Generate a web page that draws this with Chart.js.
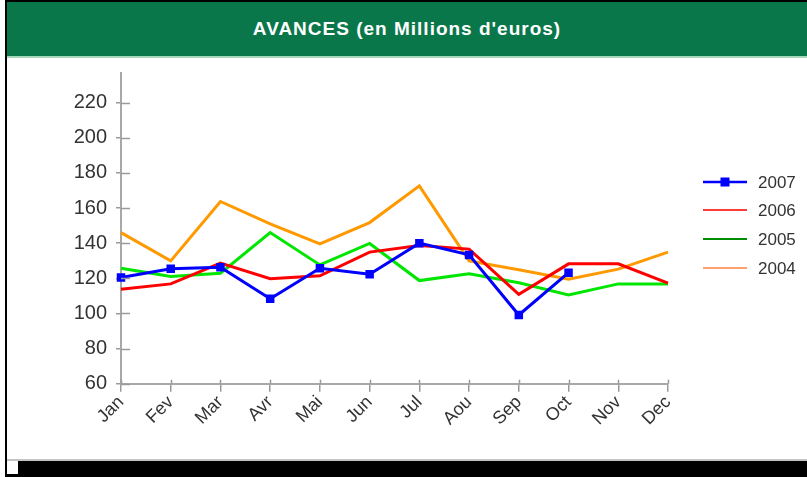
<!DOCTYPE html>
<html>
<head>
<meta charset="utf-8">
<script src="https://cdn.jsdelivr.net/npm/chart.js@4/dist/chart.umd.min.js"></script>
<style>
  html,body{margin:0;padding:0;background:#fff;width:807px;height:477px;overflow:hidden;position:relative;font-family:"Liberation Sans",Arial,sans-serif;}
  .abs{position:absolute;}
  #topb{left:5px;top:0;width:802px;height:2px;background:#000;}
  #leftb{left:5px;top:0;width:2px;height:477px;background:#000;}
  #head{left:7px;top:2px;width:800px;height:54px;background:#0a774a;color:#fff;font-weight:bold;font-size:19px;letter-spacing:1px;display:flex;align-items:center;justify-content:center;}
  #headline{left:7px;top:56px;width:800px;height:2px;background:#a8d8bc;}
  #greyline{left:7px;top:459px;width:800px;height:2px;background:#c4c4c4;}
  #blackbar{left:18px;top:461px;width:789px;height:16px;background:#000;}
  #blackbot{left:5px;top:474px;width:13px;height:3px;background:#000;}
  #wrap{left:7px;top:58px;width:800px;height:401px;}
</style>
</head>
<body>
<div class="abs" id="topb"></div>
<div class="abs" id="leftb"></div>
<div class="abs" id="head">AVANCES (en Millions d'euros)</div>
<div class="abs" id="headline"></div>
<div class="abs" id="greyline"></div>
<div class="abs" id="blackbar"></div>
<div class="abs" id="blackbot"></div>
<div class="abs" id="wrap"><canvas id="c" width="800" height="401"></canvas></div>
<script>
const months = ["Jan","Fev","Mar","Avr","Mai","Jun","Jul","Aou","Sep","Oct","Nov","Dec"];
const seriesNames = ["2007","2006","2005","2004"];
const v2007 = [120.5,125.4,126.3,108.4,125.7,122.3,140,133.3,99.1,123.2,null,null];
const v2006 = [113.8,116.8,128.6,119.7,121.4,134.9,138.6,136.6,110.9,128.2,128.2,117.2];
const v2005 = [125.7,121.0,122.9,146.0,127.6,139.8,118.7,122.5,117.5,110.5,116.8,116.8];
const v2004 = [146.0,129.9,163.7,151.0,139.6,151.7,172.6,129.9,124.8,119.5,125.2,134.9];
const yTicks = [60,80,100,120,140,160,180,200,220];
const yMin = 60, yMax = 237;

const lineColors = ["#0000ff","#ff0000","#00e600","#ff9900"];
const legendColors = ["#0000ff","#ff3c3c","#008c00","#ffa070"];

const innerTicks = {
  id:'innerTicks',
  afterDatasetsDraw(chart){
    const ctx = chart.ctx, x = chart.scales.x, y = chart.scales.y;
    ctx.save();
    ctx.strokeStyle = '#9a9a9a';
    ctx.lineWidth = 1.5;
    y.ticks.forEach(t=>{
      const py = Math.round(y.getPixelForValue(t.value))+0.5;
      ctx.beginPath(); ctx.moveTo(x.left, py); ctx.lineTo(x.left+9, py); ctx.stroke();
    });
    months.forEach((m,i)=>{
      const px = Math.round(x.getPixelForValue(i))+0.5;
      ctx.beginPath(); ctx.moveTo(px, y.bottom); ctx.lineTo(px, y.bottom-4); ctx.stroke();
    });
    ctx.restore();
  }
};

const legendPlugin = {
  id:'customLegend',
  afterDraw(chart){
    const ctx = chart.ctx;
    const rows = [124,152,181,210];
    ctx.save();
    seriesNames.forEach((n,i)=>{
      const yy = rows[i];
      ctx.strokeStyle = legendColors[i];
      ctx.lineWidth = i===0 ? 2.5 : 2;
      ctx.beginPath(); ctx.moveTo(696, yy); ctx.lineTo(740, yy); ctx.stroke();
      if(i===0){ ctx.fillStyle = legendColors[0]; ctx.fillRect(713.5, yy-4.5, 9, 9); }
      ctx.fillStyle = '#333';
      ctx.font = '17px "Liberation Sans", Arial, sans-serif';
      ctx.textBaseline = 'middle';
      ctx.fillText(n, 751, yy+1);
    });
    ctx.restore();
  }
};

const datasets = [v2007,v2006,v2005,v2004].map((d,i)=>({
  label: seriesNames[i],
  data: d,
  borderColor: lineColors[i],
  backgroundColor: lineColors[i],
  borderWidth: 3,
  tension: 0,
  spanGaps: false,
  pointStyle: 'rect',
  pointRadius: i===0 ? 6 : 0,
  pointHoverRadius: i===0 ? 6 : 0,
  pointBorderWidth: 0
}));

new Chart(document.getElementById('c'), {
  type:'line',
  data:{labels: months, datasets},
  options:{
    responsive:false,
    animation:false,
    events:[],
    layout:{padding:{left:0,right:139,top:14.7,bottom:0}},
    plugins:{legend:{display:false},tooltip:{enabled:false},title:{display:false}},
    scales:{
      x:{
        offset:false,
        grid:{drawOnChartArea:false,drawTicks:true,tickLength:8,color:'#9a9a9a',lineWidth:1.5},
        border:{display:true,color:'#a8a8a8',width:2},
        ticks:{color:'#333',font:{size:18,family:'"Liberation Sans", Arial, sans-serif'},maxRotation:45,minRotation:45,padding:0,autoSkip:false},
        afterFit(s){ s.height = 401-325.7; s.paddingLeft = 0; s.paddingRight = 0; }
      },
      y:{
        min:yMin,max:yMax,
        afterBuildTicks(s){ s.ticks = yTicks.map(v=>({value:v})); },
        grid:{drawOnChartArea:false,drawTicks:true,tickLength:5,color:'#9a9a9a',lineWidth:1.5},
        border:{display:true,color:'#a8a8a8',width:2},
        ticks:{color:'#333',font:{size:20,family:'"Liberation Sans", Arial, sans-serif'},padding:9},
        afterFit(s){ s.width = 114; s.paddingTop = 0; s.paddingBottom = 0; }
      }
    }
  },
  plugins:[innerTicks,legendPlugin]
});
</script>
</body>
</html>
